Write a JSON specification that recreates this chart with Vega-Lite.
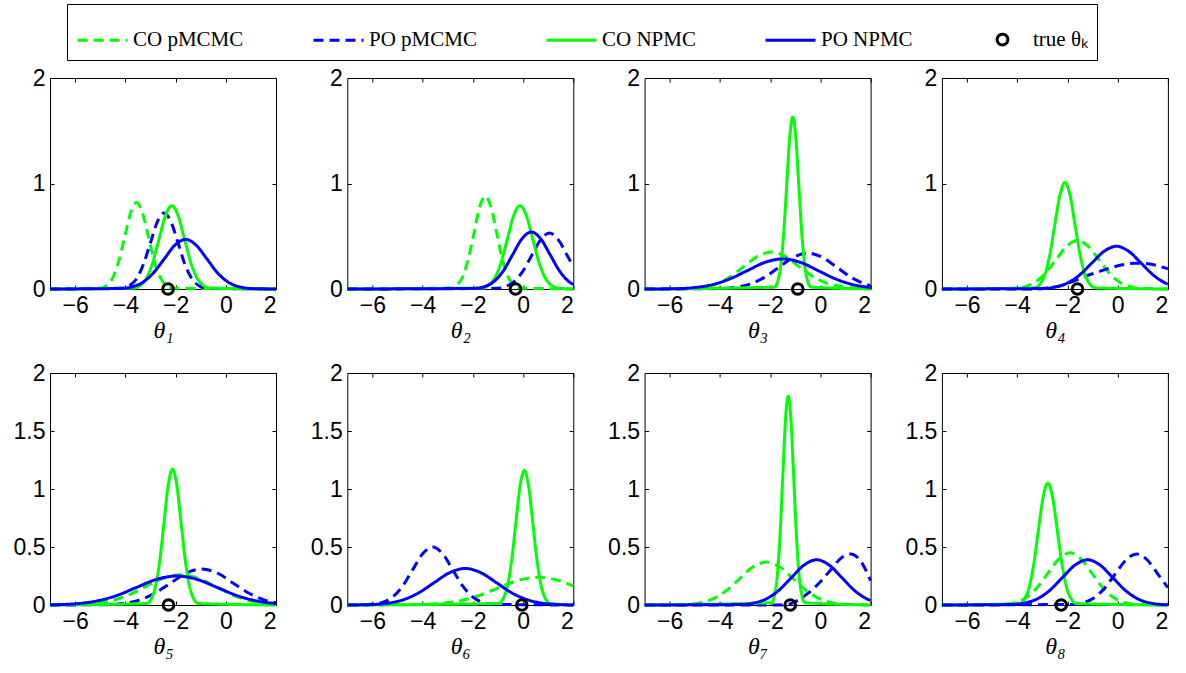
{
"$schema": "https://vega.github.io/schema/vega-lite/v6.json",
"padding": {"left": 12, "top": 3, "right": 5, "bottom": 5},
"background": "white",
"config": {
 "view": {"stroke": "black", "strokeWidth": 1},
 "axis": {"grid": false, "domain": false, "tickColor": "black", "labelColor": "black", "labelFont": "Liberation Sans", "labelFontSize": 23, "tickSize": -4, "labelPadding": 9, "titleFont": "Liberation Serif", "titleFontSize": 24, "titleFontStyle": "italic", "titleFontWeight": "normal", "titleColor": "black"},
 "axisX": {"titlePadding": 1, "labelExpr": "datum.value < 0 ? '−' + abs(datum.value) : datum.label"},
 "axisY": {"format": "~g"}
},
"datasets": {
 "curves": [
  {"panel":1,"curve":"CO pMCMC","x":[-7,-4.96,-4.73,-4.49,-4.26,-4.02,-3.79,-3.55,-3.32,-3.08,-2.85,-2.61,-2.38,-2.14,2],"y":[0,0.009,0.036,0.111,0.266,0.497,0.724,0.82,0.724,0.497,0.266,0.111,0.036,0.009,0]},
  {"panel":1,"curve":"PO pMCMC","x":[-7,-4.1,-3.83,-3.55,-3.28,-3.0,-2.73,-2.45,-2.18,-1.9,-1.63,-1.35,-1.08,-0.8,2],"y":[0,0.008,0.032,0.097,0.234,0.437,0.635,0.72,0.635,0.437,0.234,0.097,0.032,0.008,0]},
  {"panel":1,"curve":"CO NPMC","x":[-7,-3.65,-3.4,-3.15,-2.9,-2.65,-2.4,-2.15,-1.9,-1.65,-1.4,-1.15,-0.9,-0.65,2],"y":[0,0.009,0.035,0.107,0.257,0.479,0.697,0.79,0.697,0.479,0.257,0.107,0.035,0.009,0]},
  {"panel":1,"curve":"PO NPMC","x":[-7,-4.15,-3.73,-3.3,-2.88,-2.45,-2.03,-1.6,-1.18,-0.75,-0.33,0.1,0.53,0.95,2],"y":[0,0.005,0.021,0.064,0.153,0.285,0.415,0.47,0.415,0.285,0.153,0.064,0.021,0.005,0]},
  {"panel":2,"curve":"CO pMCMC","x":[-7,-2.85,-2.63,-2.4,-2.18,-1.95,-1.73,-1.5,-1.28,-1.05,-0.83,-0.6,-0.38,-0.15,2],"y":[0,0.01,0.039,0.119,0.286,0.534,0.777,0.88,0.777,0.534,0.286,0.119,0.039,0.01,0]},
  {"panel":2,"curve":"PO pMCMC","x":[-7,-1.05,-0.7,-0.35,0,0.35,0.7,1.05,1.4,1.75,2],"y":[0,0.006,0.023,0.072,0.172,0.321,0.468,0.53,0.468,0.321,0.211]},
  {"panel":2,"curve":"CO NPMC","x":[-7,-1.62,-1.37,-1.12,-0.87,-0.62,-0.37,-0.12,0.13,0.38,0.63,0.88,1.13,1.38,2],"y":[0,0.009,0.035,0.107,0.257,0.479,0.697,0.79,0.697,0.479,0.257,0.107,0.035,0.009,0]},
  {"panel":2,"curve":"PO NPMC","x":[-7,-1.89,-1.52,-1.15,-0.78,-0.41,-0.04,0.33,0.7,1.07,1.44,1.81,2],"y":[0,0.006,0.024,0.073,0.175,0.328,0.477,0.54,0.477,0.328,0.175,0.073,0.042]},
  {"panel":3,"curve":"CO pMCMC","x":[-7,-5.25,-4.7,-4.15,-3.6,-3.05,-2.5,-1.95,-1.4,-0.85,-0.3,0.25,0.8,1.35,2],"y":[0,0.004,0.015,0.047,0.114,0.212,0.309,0.35,0.309,0.212,0.12,0.056,0.025,0.01,0.002]},
  {"panel":3,"curve":"PO pMCMC","x":[-7,-3.95,-3.38,-2.8,-2.23,-1.65,-1.08,-0.5,0.08,0.65,1.23,1.8,2],"y":[0,0.004,0.015,0.046,0.11,0.206,0.3,0.34,0.3,0.206,0.11,0.046,0.032]},
  {"panel":3,"curve":"CO NPMC","x":[-7,-1.82,-1.7,-1.58,-1.46,-1.34,-1.22,-1.1,-0.98,-0.86,-0.74,-0.62,-0.5,-0.38,2],"y":[0,0.018,0.072,0.221,0.529,0.989,1.438,1.63,1.438,0.989,0.529,0.221,0.072,0.018,0]},
  {"panel":3,"curve":"PO NPMC","x":[-7,-5.76,-5.05,-4.34,-3.63,-2.92,-2.21,-1.5,-0.79,-0.08,0.63,1.34,2],"y":[0,0.003,0.0125,0.039,0.093,0.173,0.252,0.285,0.252,0.173,0.093,0.039,0.014]},
  {"panel":4,"curve":"CO pMCMC","x":[-7,-4.15,-3.73,-3.3,-2.88,-2.45,-2.03,-1.6,-1.18,-0.75,-0.33,0.1,0.53,0.95,2],"y":[0,0.005,0.02,0.062,0.149,0.279,0.406,0.46,0.406,0.279,0.149,0.062,0.02,0.005,0]},
  {"panel":4,"curve":"PO pMCMC","x":[-7,-3.3,-2.8,-2.3,-1.8,-1.3,-0.8,-0.3,0.2,0.7,1.2,1.6,2],"y":[0,0,0.01,0.03,0.07,0.12,0.16,0.2,0.23,0.245,0.24,0.22,0.19]},
  {"panel":4,"curve":"CO NPMC","x":[-7,-3.3,-3.1,-2.9,-2.7,-2.5,-2.3,-2.1,-1.9,-1.7,-1.5,-1.3,-1.1,-0.9,2],"y":[0,0.011,0.044,0.137,0.328,0.613,0.891,1.01,0.891,0.613,0.328,0.137,0.044,0.011,0]},
  {"panel":4,"curve":"PO NPMC","x":[-7,-2.99,-2.5,-2.01,-1.52,-1.03,-0.54,-0.05,0.44,0.93,1.42,1.91,2],"y":[0,0.0045,0.018,0.055,0.132,0.246,0.357,0.405,0.357,0.246,0.132,0.055,0.045]},
  {"panel":5,"curve":"CO pMCMC","x":[-7,-6.0,-5.3,-4.6,-3.9,-3.2,-2.5,-1.8,-1.1,-0.4,0.3,1.0,1.7,2],"y":[0,0.003,0.011,0.035,0.084,0.158,0.229,0.26,0.229,0.158,0.084,0.035,0.011,0.0065]},
  {"panel":5,"curve":"PO pMCMC","x":[-7,-4.7,-4.08,-3.45,-2.83,-2.2,-1.58,-0.95,-0.33,0.3,0.93,1.55,2],"y":[0,0.003,0.014,0.042,0.101,0.188,0.274,0.31,0.274,0.188,0.101,0.042,0.019]},
  {"panel":5,"curve":"CO NPMC","x":[-7,-3.14,-2.97,-2.8,-2.63,-2.46,-2.29,-2.12,-1.95,-1.78,-1.61,-1.44,-1.27,-1.1,2],"y":[0,0.013,0.051,0.158,0.38,0.71,1.033,1.17,1.033,0.71,0.38,0.158,0.051,0.013,0]},
  {"panel":5,"curve":"PO NPMC","x":[-7,-6.75,-5.95,-5.15,-4.35,-3.55,-2.75,-1.95,-1.15,-0.35,0.45,1.25,2],"y":[0.002,0.003,0.011,0.034,0.081,0.152,0.221,0.25,0.221,0.152,0.081,0.034,0.012]},
  {"panel":6,"curve":"CO pMCMC","x":[-7,-4.2,-3.4,-2.6,-1.8,-1.0,-0.2,0.6,1.4,2],"y":[0,0.003,0.011,0.032,0.078,0.146,0.212,0.24,0.212,0.164]},
  {"panel":6,"curve":"PO pMCMC","x":[-7,-6.0,-5.6,-5.2,-4.8,-4.4,-4.0,-3.6,-3.2,-2.8,-2.4,-2.0,-1.6,-1.2,2],"y":[0,0.006,0.022,0.068,0.162,0.303,0.441,0.5,0.441,0.303,0.162,0.068,0.022,0.006,0]},
  {"panel":6,"curve":"CO NPMC","x":[-7,-0.97,-0.8,-0.63,-0.46,-0.29,-0.12,0.05,0.22,0.39,0.56,0.73,0.9,1.07,2],"y":[0,0.013,0.051,0.157,0.377,0.704,1.024,1.16,1.024,0.704,0.377,0.157,0.051,0.013,0]},
  {"panel":6,"curve":"PO NPMC","x":[-7,-6.05,-5.43,-4.8,-4.18,-3.55,-2.93,-2.3,-1.68,-1.05,-0.43,0.2,0.83,1.45,2],"y":[0,0.0035,0.014,0.043,0.102,0.191,0.278,0.315,0.278,0.191,0.102,0.043,0.014,0.0035,0]},
  {"panel":7,"curve":"CO pMCMC","x":[-7,-5.39,-4.85,-4.31,-3.77,-3.23,-2.69,-2.15,-1.61,-1.07,-0.53,0.01,0.55,1.09,2],"y":[0,0.004,0.016,0.05,0.12,0.224,0.327,0.37,0.327,0.224,0.12,0.05,0.016,0.004,0]},
  {"panel":7,"curve":"PO pMCMC","x":[-7,-1.5,-1.2,-0.9,-0.5,0,0.4,0.8,1.2,1.6,2],"y":[0,0,0.01,0.04,0.1,0.2,0.3,0.4,0.44,0.38,0.21]},
  {"panel":7,"curve":"CO NPMC","x":[-7,-1.94,-1.83,-1.72,-1.61,-1.5,-1.39,-1.28,-1.17,-1.06,-0.95,-0.84,-0.73,-0.62,2],"y":[0,0.02,0.079,0.244,0.584,1.092,1.589,1.8,1.589,1.092,0.584,0.244,0.079,0.02,0]},
  {"panel":7,"curve":"PO NPMC","x":[-7,-3.15,-2.65,-2.15,-1.65,-1.15,-0.65,-0.15,0.35,0.85,1.35,1.85,2],"y":[0,0.004,0.017,0.053,0.127,0.237,0.344,0.39,0.344,0.237,0.127,0.053,0.039]},
  {"panel":8,"curve":"CO pMCMC","x":[-7,-4.54,-4.1,-3.66,-3.22,-2.78,-2.34,-1.9,-1.46,-1.02,-0.58,-0.14,0.3,0.74,2],"y":[0,0.005,0.02,0.061,0.146,0.273,0.397,0.45,0.397,0.273,0.146,0.061,0.02,0.005,0]},
  {"panel":8,"curve":"PO pMCMC","x":[-7,-1.8,-1.38,-0.95,-0.53,-0.1,0.33,0.75,1.18,1.6,2],"y":[0,0.005,0.019,0.06,0.143,0.267,0.388,0.44,0.388,0.267,0.149]},
  {"panel":8,"curve":"CO NPMC","x":[-7,-3.92,-3.73,-3.54,-3.35,-3.16,-2.97,-2.78,-2.59,-2.4,-2.21,-2.02,-1.83,-1.64,2],"y":[0,0.012,0.046,0.142,0.341,0.637,0.927,1.05,0.927,0.637,0.341,0.142,0.046,0.012,0]},
  {"panel":8,"curve":"PO NPMC","x":[-7,-4.2,-3.7,-3.2,-2.7,-2.2,-1.7,-1.2,-0.7,-0.2,0.3,0.8,1.3,1.8,2],"y":[0,0.004,0.017,0.053,0.127,0.237,0.344,0.39,0.344,0.237,0.127,0.053,0.017,0.004,0.002]}
 ],
 "truth": [
  {"panel":1,"theta":-2.3},{"panel":2,"theta":-0.3},{"panel":3,"theta":-0.9},{"panel":4,"theta":-1.6},
  {"panel":5,"theta":-2.28},{"panel":6,"theta":-0.05},{"panel":7,"theta":-1.2},{"panel":8,"theta":-2.25}
 ]
},
"columns": 4,
"spacing": {"row": 84, "column": 71.3},
"bounds": "flush",
"concat": [
  {"width":226,"height":211,"resolve":{"axis":{"x":"independent","y":"independent"}},"layer":[
   {"data":{"name":"curves"},"transform":[{"filter":"datum.panel==1"},{"flatten":["x","y"]}],"mark":{"type":"line","strokeWidth":3,"interpolate":"monotone"},
    "encoding":{"x":{"field":"x","type":"quantitative","scale":{"domain":[-7,2],"nice":false,"zero":false},"axis":{"values":[-6,-4,-2,0,2],"title":"θ₁"}},
     "y":{"field":"y","type":"quantitative","scale":{"domain":[0,2],"nice":false},"axis":{"values":[0,1,2],"title":null}},
     "color":{"field":"curve","type":"nominal","scale":{"domain":["CO pMCMC","PO pMCMC","CO NPMC","PO NPMC","true θₖ"],"range":["#00ff00","#0000ff","#00ff00","#0000ff","#000000"]},
      "legend":{"orient":"none","legendX":17,"legendY":-74,"direction":"horizontal","title":null,"strokeColor":"black","padding":9,"symbolType":"stroke","symbolSize":2500,"symbolStrokeWidth":3,"labelFont":"Liberation Serif","labelFontSize":21,"labelColor":"black","columnPadding":63,"labelOffset":4,
       "encode":{"symbols":{"update":{"shape":{"signal":"datum.value === 'true θₖ' ? 'circle' : 'stroke'"},"size":{"signal":"datum.value === 'true θₖ' ? 115 : 2500"}}}}}},
     "strokeDash":{"field":"curve","type":"nominal","scale":{"domain":["CO pMCMC","PO pMCMC","CO NPMC","PO NPMC","true θₖ"],"range":[[10,6],[10,6],[1,0],[1,0],[1,0]]},
      "legend":{"orient":"none","legendX":17,"legendY":-74,"direction":"horizontal","title":null,"strokeColor":"black","padding":9,"symbolType":"stroke","symbolSize":2500,"symbolStrokeWidth":3,"labelFont":"Liberation Serif","labelFontSize":21,"labelColor":"black","columnPadding":63,"labelOffset":4}}}},
   {"data":{"name":"truth"},"transform":[{"filter":"datum.panel==1"}],"mark":{"type":"point","shape":"circle","filled":false,"stroke":"black","strokeWidth":3,"size":115,"opacity":1},
    "encoding":{"x":{"field":"theta","type":"quantitative","scale":{"domain":[-7,2],"nice":false},"axis":{"orient":"top","values":[-6,-4,-2,0,2],"labels":false,"title":null}},"y":{"datum":0,"type":"quantitative","axis":{"orient":"right","values":[0,1,2],"labels":false,"title":null}}}}
  ]},
  {"width":226,"height":211,"resolve":{"axis":{"x":"independent","y":"independent"}},"layer":[
   {"data":{"name":"curves"},"transform":[{"filter":"datum.panel==2"},{"flatten":["x","y"]}],"mark":{"type":"line","strokeWidth":3,"interpolate":"monotone"},
    "encoding":{"x":{"field":"x","type":"quantitative","scale":{"domain":[-7,2],"nice":false,"zero":false},"axis":{"values":[-6,-4,-2,0,2],"title":"θ₂"}},
     "y":{"field":"y","type":"quantitative","scale":{"domain":[0,2],"nice":false},"axis":{"values":[0,1,2],"title":null}},
     "color":{"field":"curve","type":"nominal"},
     "strokeDash":{"field":"curve","type":"nominal"}}},
   {"data":{"name":"truth"},"transform":[{"filter":"datum.panel==2"}],"mark":{"type":"point","shape":"circle","filled":false,"stroke":"black","strokeWidth":3,"size":115,"opacity":1},
    "encoding":{"x":{"field":"theta","type":"quantitative","scale":{"domain":[-7,2],"nice":false},"axis":{"orient":"top","values":[-6,-4,-2,0,2],"labels":false,"title":null}},"y":{"datum":0,"type":"quantitative","axis":{"orient":"right","values":[0,1,2],"labels":false,"title":null}}}}
  ]},
  {"width":226,"height":211,"resolve":{"axis":{"x":"independent","y":"independent"}},"layer":[
   {"data":{"name":"curves"},"transform":[{"filter":"datum.panel==3"},{"flatten":["x","y"]}],"mark":{"type":"line","strokeWidth":3,"interpolate":"monotone"},
    "encoding":{"x":{"field":"x","type":"quantitative","scale":{"domain":[-7,2],"nice":false,"zero":false},"axis":{"values":[-6,-4,-2,0,2],"title":"θ₃"}},
     "y":{"field":"y","type":"quantitative","scale":{"domain":[0,2],"nice":false},"axis":{"values":[0,1,2],"title":null}},
     "color":{"field":"curve","type":"nominal"},
     "strokeDash":{"field":"curve","type":"nominal"}}},
   {"data":{"name":"truth"},"transform":[{"filter":"datum.panel==3"}],"mark":{"type":"point","shape":"circle","filled":false,"stroke":"black","strokeWidth":3,"size":115,"opacity":1},
    "encoding":{"x":{"field":"theta","type":"quantitative","scale":{"domain":[-7,2],"nice":false},"axis":{"orient":"top","values":[-6,-4,-2,0,2],"labels":false,"title":null}},"y":{"datum":0,"type":"quantitative","axis":{"orient":"right","values":[0,1,2],"labels":false,"title":null}}}}
  ]},
  {"width":226,"height":211,"resolve":{"axis":{"x":"independent","y":"independent"}},"layer":[
   {"data":{"name":"curves"},"transform":[{"filter":"datum.panel==4"},{"flatten":["x","y"]}],"mark":{"type":"line","strokeWidth":3,"interpolate":"monotone"},
    "encoding":{"x":{"field":"x","type":"quantitative","scale":{"domain":[-7,2],"nice":false,"zero":false},"axis":{"values":[-6,-4,-2,0,2],"title":"θ₄"}},
     "y":{"field":"y","type":"quantitative","scale":{"domain":[0,2],"nice":false},"axis":{"values":[0,1,2],"title":null}},
     "color":{"field":"curve","type":"nominal"},
     "strokeDash":{"field":"curve","type":"nominal"}}},
   {"data":{"name":"truth"},"transform":[{"filter":"datum.panel==4"}],"mark":{"type":"point","shape":"circle","filled":false,"stroke":"black","strokeWidth":3,"size":115,"opacity":1},
    "encoding":{"x":{"field":"theta","type":"quantitative","scale":{"domain":[-7,2],"nice":false},"axis":{"orient":"top","values":[-6,-4,-2,0,2],"labels":false,"title":null}},"y":{"datum":0,"type":"quantitative","axis":{"orient":"right","values":[0,1,2],"labels":false,"title":null}}}}
  ]},
  {"width":226,"height":232,"resolve":{"axis":{"x":"independent","y":"independent"}},"layer":[
   {"data":{"name":"curves"},"transform":[{"filter":"datum.panel==5"},{"flatten":["x","y"]}],"mark":{"type":"line","strokeWidth":3,"interpolate":"monotone"},
    "encoding":{"x":{"field":"x","type":"quantitative","scale":{"domain":[-7,2],"nice":false,"zero":false},"axis":{"values":[-6,-4,-2,0,2],"title":"θ₅"}},
     "y":{"field":"y","type":"quantitative","scale":{"domain":[0,2],"nice":false},"axis":{"values":[0,0.5,1,1.5,2],"title":null}},
     "color":{"field":"curve","type":"nominal"},
     "strokeDash":{"field":"curve","type":"nominal"}}},
   {"data":{"name":"truth"},"transform":[{"filter":"datum.panel==5"}],"mark":{"type":"point","shape":"circle","filled":false,"stroke":"black","strokeWidth":3,"size":115,"opacity":1},
    "encoding":{"x":{"field":"theta","type":"quantitative","scale":{"domain":[-7,2],"nice":false},"axis":{"orient":"top","values":[-6,-4,-2,0,2],"labels":false,"title":null}},"y":{"datum":0,"type":"quantitative","axis":{"orient":"right","values":[0,0.5,1,1.5,2],"labels":false,"title":null}}}}
  ]},
  {"width":226,"height":232,"resolve":{"axis":{"x":"independent","y":"independent"}},"layer":[
   {"data":{"name":"curves"},"transform":[{"filter":"datum.panel==6"},{"flatten":["x","y"]}],"mark":{"type":"line","strokeWidth":3,"interpolate":"monotone"},
    "encoding":{"x":{"field":"x","type":"quantitative","scale":{"domain":[-7,2],"nice":false,"zero":false},"axis":{"values":[-6,-4,-2,0,2],"title":"θ₆"}},
     "y":{"field":"y","type":"quantitative","scale":{"domain":[0,2],"nice":false},"axis":{"values":[0,0.5,1,1.5,2],"title":null}},
     "color":{"field":"curve","type":"nominal"},
     "strokeDash":{"field":"curve","type":"nominal"}}},
   {"data":{"name":"truth"},"transform":[{"filter":"datum.panel==6"}],"mark":{"type":"point","shape":"circle","filled":false,"stroke":"black","strokeWidth":3,"size":115,"opacity":1},
    "encoding":{"x":{"field":"theta","type":"quantitative","scale":{"domain":[-7,2],"nice":false},"axis":{"orient":"top","values":[-6,-4,-2,0,2],"labels":false,"title":null}},"y":{"datum":0,"type":"quantitative","axis":{"orient":"right","values":[0,0.5,1,1.5,2],"labels":false,"title":null}}}}
  ]},
  {"width":226,"height":232,"resolve":{"axis":{"x":"independent","y":"independent"}},"layer":[
   {"data":{"name":"curves"},"transform":[{"filter":"datum.panel==7"},{"flatten":["x","y"]}],"mark":{"type":"line","strokeWidth":3,"interpolate":"monotone"},
    "encoding":{"x":{"field":"x","type":"quantitative","scale":{"domain":[-7,2],"nice":false,"zero":false},"axis":{"values":[-6,-4,-2,0,2],"title":"θ₇"}},
     "y":{"field":"y","type":"quantitative","scale":{"domain":[0,2],"nice":false},"axis":{"values":[0,0.5,1,1.5,2],"title":null}},
     "color":{"field":"curve","type":"nominal"},
     "strokeDash":{"field":"curve","type":"nominal"}}},
   {"data":{"name":"truth"},"transform":[{"filter":"datum.panel==7"}],"mark":{"type":"point","shape":"circle","filled":false,"stroke":"black","strokeWidth":3,"size":115,"opacity":1},
    "encoding":{"x":{"field":"theta","type":"quantitative","scale":{"domain":[-7,2],"nice":false},"axis":{"orient":"top","values":[-6,-4,-2,0,2],"labels":false,"title":null}},"y":{"datum":0,"type":"quantitative","axis":{"orient":"right","values":[0,0.5,1,1.5,2],"labels":false,"title":null}}}}
  ]},
  {"width":226,"height":232,"resolve":{"axis":{"x":"independent","y":"independent"}},"layer":[
   {"data":{"name":"curves"},"transform":[{"filter":"datum.panel==8"},{"flatten":["x","y"]}],"mark":{"type":"line","strokeWidth":3,"interpolate":"monotone"},
    "encoding":{"x":{"field":"x","type":"quantitative","scale":{"domain":[-7,2],"nice":false,"zero":false},"axis":{"values":[-6,-4,-2,0,2],"title":"θ₈"}},
     "y":{"field":"y","type":"quantitative","scale":{"domain":[0,2],"nice":false},"axis":{"values":[0,0.5,1,1.5,2],"title":null}},
     "color":{"field":"curve","type":"nominal"},
     "strokeDash":{"field":"curve","type":"nominal"}}},
   {"data":{"name":"truth"},"transform":[{"filter":"datum.panel==8"}],"mark":{"type":"point","shape":"circle","filled":false,"stroke":"black","strokeWidth":3,"size":115,"opacity":1},
    "encoding":{"x":{"field":"theta","type":"quantitative","scale":{"domain":[-7,2],"nice":false},"axis":{"orient":"top","values":[-6,-4,-2,0,2],"labels":false,"title":null}},"y":{"datum":0,"type":"quantitative","axis":{"orient":"right","values":[0,0.5,1,1.5,2],"labels":false,"title":null}}}}
  ]}
]
}
